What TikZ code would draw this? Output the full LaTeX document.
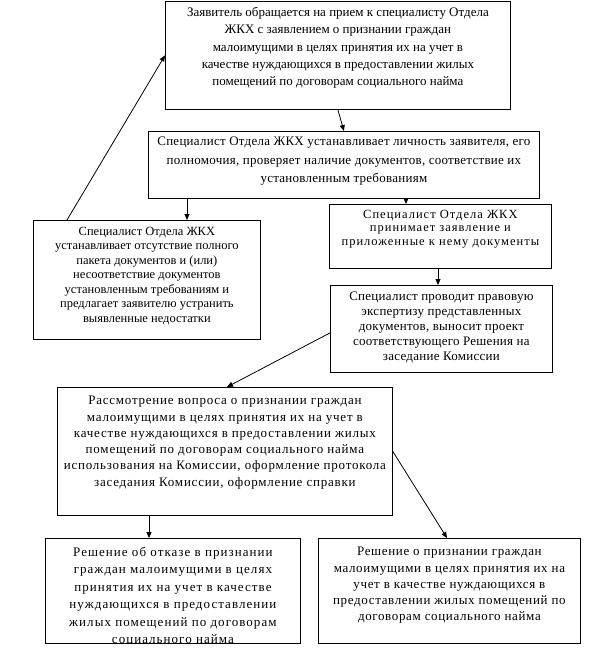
\documentclass[tikz,border=0pt]{standalone}
\usepackage{fontspec}
\setmainfont{Liberation Serif}
\usetikzlibrary{arrows.meta}
\newcommand\fsz[2]{\fontsize{#1}{#2}\selectfont}
\begin{document}
\begin{tikzpicture}[x=1pt,y=-1pt,
  box/.style={draw=black, line width=0.8pt, inner sep=0pt, anchor=north west},
  txt/.style={inner sep=0pt, anchor=north, align=center, text=black},
  arr/.style={draw=black, line width=0.8pt, -{Triangle[length=6pt,width=5pt]}}]
\useasboundingbox (0,0) rectangle (600,663);
\fill[white] (0,0) rectangle (600,663);
% boxes
\node[box, minimum width=345pt, minimum height=108pt] (b1) at (165,1) {};
\node[box, minimum width=391pt, minimum height=67pt] (b2) at (148,131) {};
\node[box, minimum width=227pt, minimum height=119pt] (b3) at (33,220) {};
\node[box, minimum width=222pt, minimum height=64pt] (b4) at (329,204) {};
\node[box, minimum width=222pt, minimum height=87pt] (b5) at (330,285) {};
\node[box, minimum width=335pt, minimum height=128pt] (b6) at (57,387) {};
\node[box, minimum width=255pt, minimum height=105pt] (b7) at (45,538) {};
\node[box, minimum width=262pt, minimum height=105pt] (b8) at (318,538) {};
% texts
\node[txt, font=\fsz{13}{17.25}] (t1) at ([yshift=-6pt]b1.north) {Заявитель обращается на прием к специалисту Отдела\\ЖКХ с заявлением о признании граждан\\малоимущими в целях принятия их на учет в\\качестве нуждающихся в предоставлении жилых\\помещений по договорам социального найма};
\node[txt, font=\fsz{13}{18.5}\addfontfeatures{LetterSpace=2}] (t2) at ([yshift=-6pt]b2.north) {Специалист Отдела ЖКХ устанавливает личность заявителя, его\\полномочия, проверяет наличие документов, соответствие их\\установленным требованиям};
\node[txt, font=\fsz{12.5}{14.5}] (t3) at ([yshift=-7pt]b3.north) {Специалист Отдела ЖКХ\\устанавливает отсутствие полного\\пакета документов и (или)\\несоответствие документов\\установленным требованиям и\\предлагает заявителю устранить\\выявленные недостатки};
\node[txt, font=\fsz{12.5}{13.5}\addfontfeatures{LetterSpace=8}] (t4) at ([yshift=-6pt]b4.north) {Специалист Отдела ЖКХ\\принимает заявление и\\приложенные к нему документы};
\node[txt, font=\fsz{13}{15}\addfontfeatures{LetterSpace=2}] (t5) at ([yshift=-7pt]b5.north) {Специалист проводит правовую\\экспертизу представленных\\документов, выносит проект\\соответствующего Решения на\\заседание Комиссии};
\node[txt, font=\fsz{13}{16.3}\addfontfeatures{LetterSpace=6}] (t6) at ([yshift=-9pt]b6.north) {Рассмотрение вопроса о признании граждан\\малоимущими в целях принятия их на учет в\\качестве нуждающихся в предоставлении жилых\\помещений по договорам социального найма\\использования на Комиссии, оформление протокола\\заседания Комиссии, оформление справки};
\begin{scope}
\clip (b7.north west) rectangle (b7.south east);
\node[txt, font=\fsz{13}{17.4}\addfontfeatures{LetterSpace=8}] (t7) at ([yshift=-9pt]b7.north) {Решение об отказе в признании\\граждан малоимущими в целях\\принятия их на учет в качестве\\нуждающихся в предоставлении\\жилых помещений по договорам\\социального найма};
\end{scope}
\node[txt, font=\fsz{13}{16.3}\addfontfeatures{LetterSpace=5}] (t8) at ([yshift=-9pt]b8.north) {Решение о признании граждан\\малоимущими в целях принятия их на\\учет в качестве нуждающихся в\\предоставлении жилых помещений по\\договорам социального найма};
% connectors
\draw[arr] (b1.south) -- (b2.north);
\draw[arr] ([xshift=39pt]b2.south west) -- ([xshift=154pt]b3.north west);
\draw[arr] ([xshift=258pt]b2.south west) -- ([xshift=77pt]b4.north west);
\draw[arr] ([xshift=34pt]b3.north west) -- (b1.west);
\draw[arr] ([xshift=109pt]b4.south west) -- ([xshift=108pt]b5.north west);
\draw[arr] ([yshift=-4pt]b5.west) -- ([xshift=170pt]b6.north west);
\draw[arr] ([xshift=92pt]b6.south west) -- ([xshift=104pt]b7.north west);
\draw[arr] (b6.east) -- ([xshift=129pt]b8.north west);
\end{tikzpicture}
\end{document}
